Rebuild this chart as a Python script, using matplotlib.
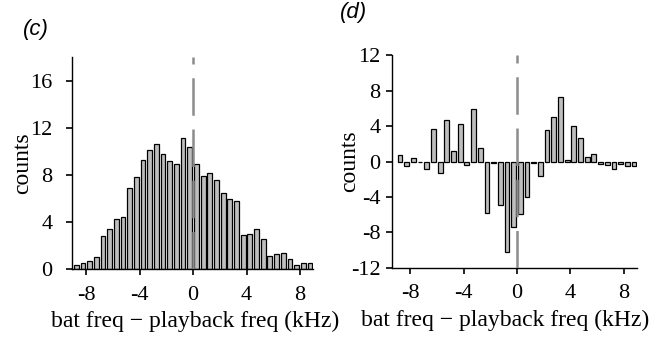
import matplotlib.pyplot as plt
import numpy as np

plt.rcParams['font.family'] = ['Liberation Serif', 'DejaVu Serif']
plt.rcParams['axes.unicode_minus'] = False

# bin centres, 0.5 kHz bins from -9 to 9
centers = np.arange(-8.75, 9.0, 0.5)

counts_c = [0.34, 0.5, 0.7, 1.0, 2.8, 3.4, 4.25, 4.4, 6.9, 7.8, 9.3, 10.1,
            10.6, 9.8, 9.2, 8.9, 11.15, 10.4, 8.9, 7.95, 8.2, 7.6, 6.5, 6.0,
            5.8, 2.9, 3.0, 3.4, 2.6, 1.15, 1.3, 1.35, 0.87, 0.34, 0.5, 0.5]

counts_d = [0.7, -0.5, 0.35, 0.0, -0.8, 3.65, -1.3, 4.67, 1.2, 4.25, -0.35, 5.9,
            1.5, -5.84, -0.22, -4.9, -10.2, -7.4, -5.9, -4.0, -0.15, -1.65, 3.55, 5.05,
            7.27, 0.2, 4.07, 2.64, 0.5, 0.9, -0.3, -0.38, -0.87, -0.3, -0.5, -0.5]

xticks = [-8, -4, 0, 4, 8]
yticks_c = [0, 4, 8, 12, 16]
yticks_d = [-12, -8, -4, 0, 4, 8, 12]

fig = plt.figure(figsize=(6.58, 3.43), dpi=100)
ax1 = fig.add_axes([0.1094, 0.2149, 0.3663, 0.619])
ax2 = fig.add_axes([0.5953, 0.2195, 0.3733, 0.619])


def style(ax, ypad):
    for s in ['top', 'right']:
        ax.spines[s].set_visible(False)
    for s in ['left', 'bottom']:
        ax.spines[s].set_linewidth(1.0)
    ax.tick_params(direction='out', length=4, width=1.2, labelsize=16)
    ax.tick_params(axis='x', pad=8)
    ax.tick_params(axis='y', pad=ypad)
    ax.set_xticks(xticks)
    ax.set_xlabel('bat freq \u2212 playback freq (kHz)', fontsize=17)
    ax.set_ylabel('counts', fontsize=17)


ax1.bar(centers, counts_c, width=0.36, color='#bebebe', edgecolor='black', linewidth=0.9)
ax1.axvline(0, color='#8c8c8c', lw=1.8, dashes=(15, 5.5), zorder=3)
ax1.set_xlim(-9.07, 8.98)
ax1.set_ylim(0, 18)
ax1.set_yticks(yticks_c)
style(ax1, 10)
ax1.xaxis.set_label_coords(0.51, -0.196)
ax1.yaxis.set_label_coords(-0.162, 0.5)

ax2.bar(centers, counts_d, width=0.36, color='#bebebe', edgecolor='black', linewidth=0.9)
ax2.axvline(0, color='#8c8c8c', lw=1.8, dashes=(15, 5.5), zorder=3)
ax2.set_xlim(-9.37, 9.0)
ax2.set_ylim(-12, 12)
ax2.set_yticks(yticks_d)
style(ax2, 4)
ax2.xaxis.set_label_coords(0.461, -0.196)
ax2.yaxis.set_label_coords(-0.129, 0.5)

fig.text(0.035, 0.945, '(c)', fontsize=16, style='italic', family='Liberation Sans', va='top')
fig.text(0.517, 0.995, '(d)', fontsize=16, style='italic', family='Liberation Sans', va='top')

fig.savefig('out.png', dpi=100)
